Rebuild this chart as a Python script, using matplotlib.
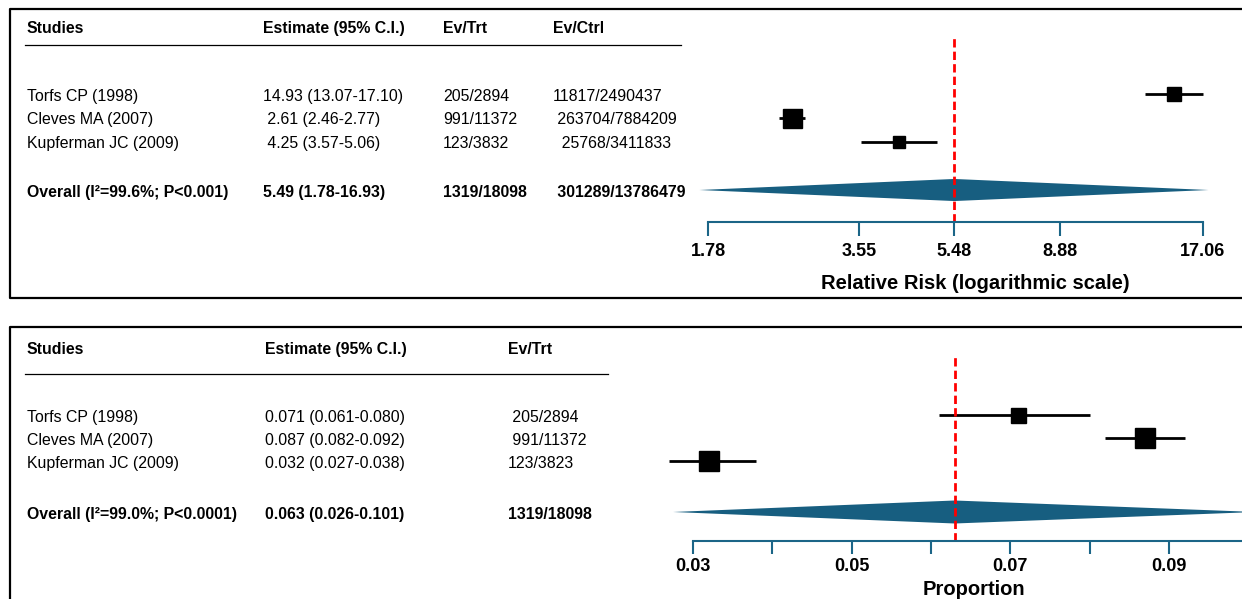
import numpy as np
import matplotlib
matplotlib.use("Agg")
import matplotlib.pyplot as plt

plt.rcParams['font.family'] = ['Liberation Sans', 'DejaVu Sans']

# ---- data: relative risk panel ----
rr_studies = ["Torfs CP (1998)", "Cleves MA (2007)", "Kupferman JC (2009)"]
rr_est = [14.93, 2.61, 4.25]
rr_lo = [13.07, 2.46, 3.57]
rr_hi = [17.10, 2.77, 5.06]
rr_est_txt = ["14.93 (13.07-17.10)", " 2.61 (2.46-2.77)", " 4.25 (3.57-5.06)"]
rr_trt_txt = ["205/2894", "991/11372", "123/3832"]
rr_ctrl_txt = ["11817/2490437", " 263704/7884209", "  25768/3411833"]
rr_overall = 5.48
rr_overall_lo = 1.71   # diamond tips as drawn in the picture
rr_overall_hi = 17.5
rr_overall_row = ["Overall (I²=99.6%; P<0.001)", "5.49 (1.78-16.93)",
                  "1319/18098", " 301289/13786479"]
rr_ticks = [1.78, 3.55, 5.48, 8.88, 17.06]

# ---- data: proportion panel ----
pr_studies = ["Torfs CP (1998)", "Cleves MA (2007)", "Kupferman JC (2009)"]
pr_est = [0.071, 0.087, 0.032]
pr_lo = [0.061, 0.082, 0.027]
pr_hi = [0.080, 0.092, 0.038]
pr_est_txt = ["0.071 (0.061-0.080)", "0.087 (0.082-0.092)", "0.032 (0.027-0.038)"]
pr_trt_txt = [" 205/2894", " 991/11372", "123/3823"]
pr_overall = 0.063
pr_overall_lo = 0.0275
pr_overall_hi = 0.101
pr_overall_row = ["Overall (I²=99.0%; P<0.0001)", "0.063 (0.026-0.101)", "1319/18098"]
pr_ticks = [0.03, 0.04, 0.05, 0.06, 0.07, 0.08, 0.09]
pr_ticklabels = ["0.03", "", "0.05", "", "0.07", "", "0.09"]

# ---- layout / style ----
W, H = 1242, 599
teal = "#1b6587"
diamond_col = "#175e80"
txt_size = 11.4
tick_size = 13
lab_size = 14.5

fig = plt.figure(figsize=(W / 100, H / 100), dpi=100)

def px_axes(x0, y0, x1, y1):
    return fig.add_axes([x0 / W, 1 - y1 / H, (x1 - x0) / W, (y1 - y0) / H])

ov = fig.add_axes([0, 0, 1, 1])
ov.set_xlim(0, W)
ov.set_ylim(H, 0)
ov.axis('off')

# boxes
ov.plot([W + 5, 10, 10, W + 5], [9, 9, 298, 298], color='black', lw=1.6, clip_on=False)
ov.plot([10, 10, W + 5], [H + 5, 327, 327], color='black', lw=1.6, clip_on=False)

def table(cols_x, header, head_y, line_y, line_x1, rows_y, columns, overall, overall_y):
    for x, s in zip(cols_x, header):
        ov.text(x, head_y, s, fontsize=txt_size, fontweight='bold', va='center_baseline')
    ov.plot([25, line_x1], [line_y, line_y], color='black', lw=0.9)
    for x, col in zip(cols_x, columns):
        for y, s in zip(rows_y, col):
            ov.text(x, y, s, fontsize=txt_size, va='center_baseline')
    for x, s in zip(cols_x, overall):
        ov.text(x, overall_y, s, fontsize=txt_size, fontweight='bold', va='center_baseline')

def forest(ax, est, lo, hi, o_est, o_lo, o_hi, o_row, boxes, half):
    rows = np.arange(len(est))
    for r, e, l, h, b in zip(rows, est, lo, hi, boxes):
        ax.plot([l, h], [r, r], color='black', lw=2, solid_capstyle='butt')
        ax.plot(e, r, marker='s', color='black', markersize=b * 0.72, ls='none')
    ax.fill([o_lo, o_est, o_hi, o_est], [o_row, o_row - half, o_row, o_row + half],
            color=diamond_col, lw=0)
    for s in ['top', 'left', 'right']:
        ax.spines[s].set_visible(False)
    ax.spines['bottom'].set_color(teal)
    ax.spines['bottom'].set_linewidth(1.5)
    ax.set_yticks([])
    ax.tick_params(axis='x', which='major', direction='out', color=teal, width=1.5,
                   labelsize=tick_size)
    ax.tick_params(axis='x', which='minor', bottom=False)
    ax.patch.set_visible(False)

# ---- top panel ----
table([27, 263, 443, 553], ["Studies", "Estimate (95% C.I.)", "Ev/Trt", "Ev/Ctrl"], 27, 45, 681,
      [95, 118, 142], [rr_studies, rr_est_txt, rr_trt_txt, rr_ctrl_txt],
      rr_overall_row, 191)
ax1 = px_axes(690, 30, 1230, 222)
ax1.set_xscale('log')
ax1.set_xlim(1.638, 19.31)
ax1.set_ylim(5.333, -2.667)
forest(ax1, rr_est, rr_lo, rr_hi, rr_overall, rr_overall_lo, rr_overall_hi, 4,
       [14, 19, 12.5], 0.46)
ax1.spines['bottom'].set_bounds(rr_ticks[0], rr_ticks[-1])
ax1.set_xticks(rr_ticks)
ax1.set_xticklabels([f"{t:.2f}" for t in rr_ticks], fontweight='bold')
ax1.xaxis.set_minor_formatter(matplotlib.ticker.NullFormatter())
ax1.tick_params(axis='x', length=10, pad=5)
ax1.axvline(rr_overall, ymin=0, ymax=0.969, color='red', ls=(0, (3, 1.5)), lw=2)
ax1.set_xlabel("Relative Risk (logarithmic scale)", fontsize=lab_size, fontweight='bold')
ax1.xaxis.set_label_coords(0.528, -0.27)

# ---- bottom panel ----
table([27, 265, 508], ["Studies", "Estimate (95% C.I.)", "Ev/Trt"], 348, 374, 608,
      [416, 439, 462], [pr_studies, pr_est_txt, pr_trt_txt],
      pr_overall_row, 513)
ax2 = px_axes(655, 350, 1242, 541)
ax2.set_xlim(0.02521, 0.09923)
ax2.set_ylim(5.478, -2.826)
forest(ax2, pr_est, pr_lo, pr_hi, pr_overall, pr_overall_lo, pr_overall_hi, 4.217,
       [15, 20, 20], 0.5)
ax2.spines['bottom'].set_bounds(pr_ticks[0], 0.09923)
ax2.set_xticks(pr_ticks)
ax2.set_xticklabels(pr_ticklabels, fontweight='bold')
ax2.tick_params(axis='x', length=9, pad=3)
ax2.axvline(pr_overall, ymin=0, ymax=0.963, color='red', ls=(0, (3, 1.5)), lw=2)
ax2.set_xlabel("Proportion", fontsize=lab_size, fontweight='bold')
ax2.xaxis.set_label_coords(0.544, -0.205)

fig.savefig("out.png", dpi=100)
